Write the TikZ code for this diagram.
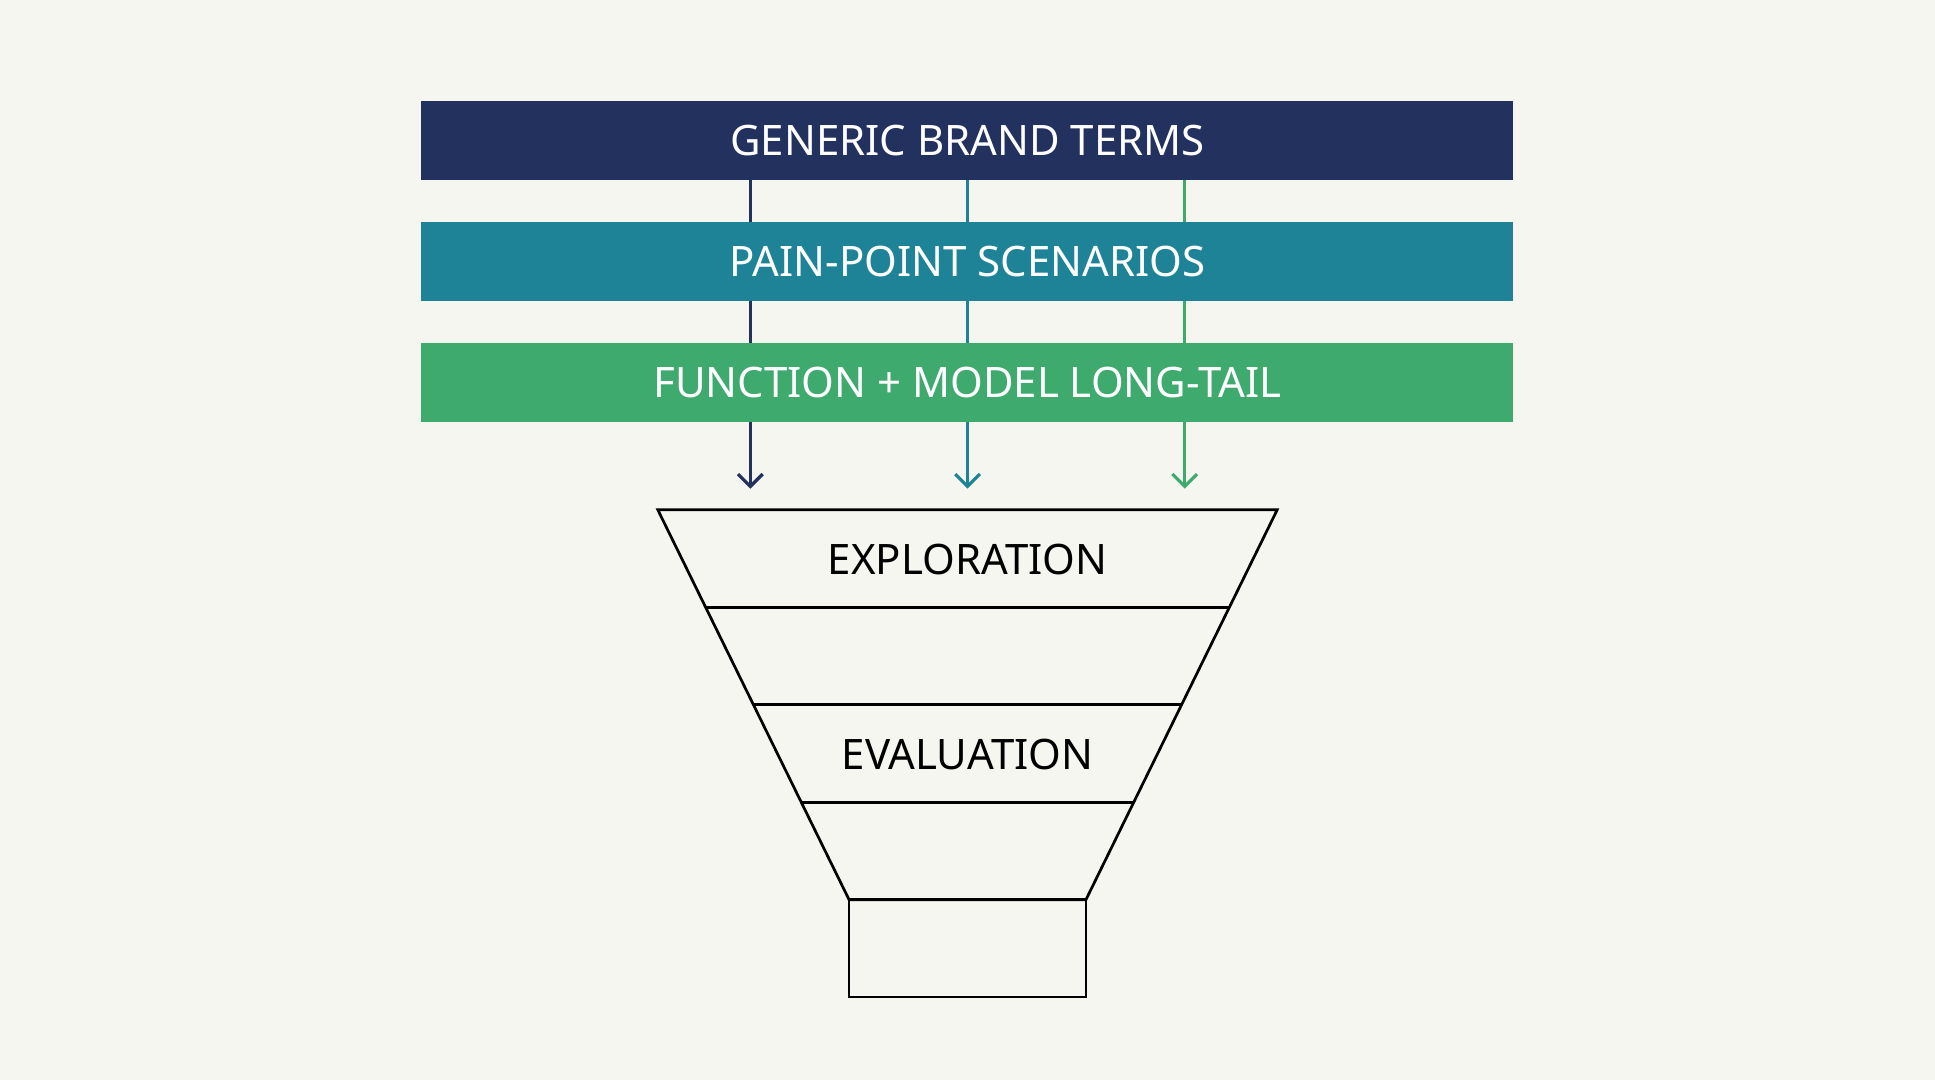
\documentclass[tikz,border=0pt]{standalone}
\usepackage{fontspec}
\setmainfont{Noto Sans}
\usetikzlibrary{arrows.meta}
\definecolor{bg}{HTML}{F6F6F1}
\definecolor{navy}{HTML}{22315E}
\definecolor{teal}{HTML}{1F8397}
\definecolor{grn}{HTML}{3FAA6E}
\begin{document}
\begin{tikzpicture}[x=0.5pt,y=-0.5pt,
  bar/.style={fill=#1,draw=none},
  bartext/.style={text=white,font=\fontsize{17}{20}\selectfont\bfseries},
  ftext/.style={text=black,font=\fontsize{17}{20}\selectfont\bfseries},
  arr/.style={draw=#1,line width=1.3pt,-{Straight Barb[length=5pt,width=10pt,line width=1.3pt]}},
  fun/.style={draw=black,line width=1.1pt}]
\fill[bg] (0,0) rectangle (1568,875);
\useasboundingbox (0,0) rectangle (1568,875);
\coordinate (a1) at (608,146); \coordinate (a1e) at (608,396);
\coordinate (a2) at (784,146); \coordinate (a2e) at (784,396);
\coordinate (a3) at (960,146); \coordinate (a3e) at (960,396);
\draw[arr=navy] (a1) -- (a1e);
\draw[arr=teal] (a2) -- (a2e);
\draw[arr=grn] (a3) -- (a3e);
\fill[bar=navy] (341,82) rectangle (1226,146);
\fill[bar=teal] (341,180) rectangle (1226,244);
\fill[bar=grn] (341,278) rectangle (1226,342);
\node[bartext] (t1) at (784,114) {GENERIC BRAND TERMS};
\node[bartext] (t2) at (784,212) {PAIN-POINT SCENARIOS};
\node[bartext] (t3) at (784,310) {FUNCTION + MODEL LONG-TAIL};
\draw[fun,line join=miter] (533,413) -- (1035,413) -- (880,729) -- (688,729) -- cycle;
\draw[fun] (572.2,492) -- (996.3,492);
\draw[fun] (611,571) -- (957.5,571);
\draw[fun] (649.8,650) -- (918.8,650);
\draw[fun] (688,729) rectangle (880,808);
\node[ftext] (e1) at (784,453) {EXPLORATION};
\node[ftext] (e2) at (784,611) {EVALUATION};
\end{tikzpicture}
\end{document}
